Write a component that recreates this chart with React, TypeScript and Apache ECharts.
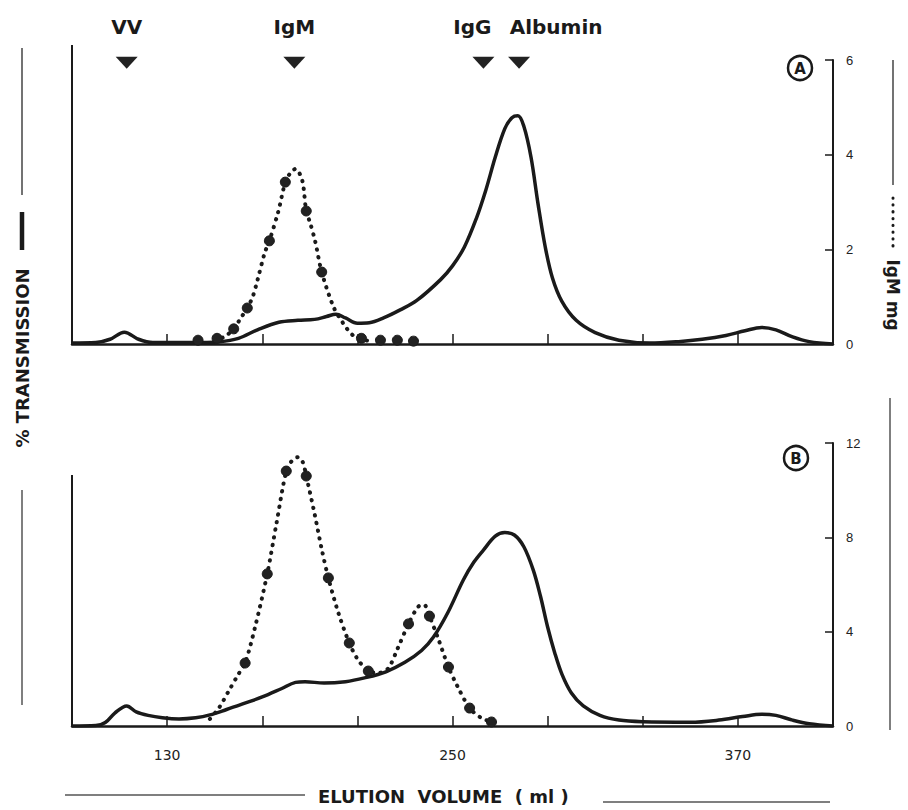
import React, { useEffect, useRef } from "react";
import * as echarts from "echarts";

// ---- data ----
const volumeTicks = [130, 170, 210, 250, 290, 330, 370];
const volumeLabels = [130, 250, 370];
const mgTicksA = [0, 2, 4, 6];
const mgTicksB = [0, 4, 8, 12];

const markerNames = ["VV", "IgM", "IgG", "Albumin"];
const markerVolumes = [113, 183.5, 263, 278];

// Panel A: solid = transmission trace, dotted = IgM mg
const transmissionA: [number, number][] = [
  [90, 0.02], [100, 0.03], [106, 0.1], [112, 0.25], [118, 0.1], [124, 0.03], [140, 0.03],
  [152, 0.05], [160, 0.12], [168, 0.3], [177, 0.46], [185, 0.5], [192, 0.52], [197, 0.58],
  [201, 0.63], [205, 0.55], [210, 0.44], [215, 0.45], [221, 0.55], [228, 0.72], [235, 0.92],
  [245, 1.36], [250, 1.65], [255, 2.05], [260, 2.65], [264, 3.25], [268, 3.95], [272, 4.55],
  [275, 4.78], [277.5, 4.82], [280, 4.6], [283, 3.95], [286, 2.95], [289, 2.05], [292, 1.4],
  [296, 0.9], [302, 0.5], [310, 0.24], [320, 0.08], [333, 0.02], [345, 0.05], [355, 0.1],
  [365, 0.18], [373, 0.28], [380, 0.35], [386, 0.3], [393, 0.15], [400, 0.05], [410, 0.0],
];
const igmCurveA: [number, number][] = [
  [150, 0.08], [154, 0.15], [158, 0.32], [161, 0.55], [163.7, 0.76], [166, 1.0], [168, 1.35],
  [171, 1.92], [173, 2.18], [176.7, 2.79], [179.7, 3.42], [181.8, 3.61], [184, 3.7],
  [186.8, 3.46], [188.5, 2.81], [190.2, 2.55], [192.3, 2.16], [195, 1.52], [200, 0.78],
  [204, 0.44], [208, 0.19], [212, 0.1], [216, 0.05],
];
const igmPointsA: [number, number][] = [
  [143, 0.08], [151, 0.12], [158, 0.32], [163.7, 0.76], [173, 2.18], [179.7, 3.42],
  [188.5, 2.81], [195, 1.52], [211.7, 0.12], [219.7, 0.08], [226.8, 0.08], [233.6, 0.06],
];

// Panel B
const transmissionB: [number, number][] = [
  [90, 0], [100, 0.02], [104, 0.15], [108, 0.55], [113, 0.85], [117, 0.6], [122, 0.45],
  [128, 0.35], [135, 0.3], [142, 0.35], [148, 0.47], [155, 0.7], [163, 0.98], [170, 1.23],
  [178, 1.58], [184, 1.85], [188, 1.88], [196, 1.82], [205, 1.88], [213, 2.04], [222, 2.3],
  [230, 2.7], [237, 3.2], [242, 3.77], [248, 4.8], [254.6, 6.2], [259, 6.95], [263, 7.46],
  [268, 8.05], [272, 8.2], [276, 8.1], [280, 7.6], [284, 6.6], [287, 5.5], [290, 4.2],
  [293, 3.1], [296, 2.2], [300, 1.4], [305, 0.85], [312, 0.45], [320, 0.25], [330, 0.18],
  [350, 0.16], [362, 0.25], [372, 0.4], [380, 0.5], [386, 0.45], [393, 0.25], [400, 0.1],
  [410, 0],
];
const igmCurveB: [number, number][] = [
  [148, 0.3], [152, 0.8], [156, 1.5], [160, 2.2], [162.8, 2.67], [167, 4.2], [172.1, 6.45],
  [176, 8.6], [180.1, 10.81], [182.5, 11.25], [185, 11.4], [187, 11.2], [188.5, 10.6],
  [192, 9.0], [195, 7.5], [197.8, 6.28], [202, 4.8], [206.6, 3.52], [210, 2.85],
  [214.6, 2.33], [219, 2.25], [223, 2.45], [227, 3.3], [231.5, 4.33], [235.5, 5.05],
  [238, 5.15], [240.3, 4.66], [244, 3.7], [248.3, 2.5], [252, 1.7], [257.2, 0.76],
  [262, 0.35], [266.4, 0.17],
];
const igmPointsB: [number, number][] = [
  [162.8, 2.67], [172.1, 6.45], [180.1, 10.81], [188.5, 10.6], [197.8, 6.28], [206.6, 3.52],
  [214.6, 2.33], [231.5, 4.33], [240.3, 4.66], [248.3, 2.5], [257.2, 0.76], [266.4, 0.17],
];

// ---- styling ----
const INK = "#1a1a1a";
const BOLD_FONT = "DejaVu Sans";
const markerLabelShift = [0, 0, -11, 37];

export default function App() {
  const ref = useRef<HTMLDivElement>(null);

  useEffect(() => {
    document.body.style.margin = "0";
    if (!ref.current) return;
    const chart = echarts.init(ref.current, undefined, { renderer: "svg" });

    const xAxisBase = (gridIndex: number, showLabels: boolean) => ({
      gridIndex,
      type: "value",
      min: 90,
      max: 410,
      axisLine: { show: true, lineStyle: { color: INK, width: 2.5 } },
      axisTick: {
        show: true,
        inside: true,
        length: 10,
        customValues: volumeTicks,
        lineStyle: { color: INK, width: 1.5 },
      },
      axisLabel: showLabels
        ? {
            show: true,
            customValues: volumeLabels,
            margin: 22,
            fontSize: 14,
            fontFamily: "DejaVu Sans",
            color: "#222",
          }
        : { show: false },
      splitLine: { show: false },
    });

    const yAxisBase = (gridIndex: number, ticks: number[]) => ({
      gridIndex,
      type: "value",
      position: "right",
      min: ticks[0],
      max: ticks[ticks.length - 1],
      interval: ticks[1] - ticks[0],
      axisLine: { show: true, lineStyle: { color: INK, width: 2 } },
      axisTick: { show: true, inside: true, length: 8, lineStyle: { color: INK, width: 1.5 } },
      axisLabel: {
        show: true,
        margin: 13,
        fontSize: 13,
        fontFamily: "Liberation Sans",
        color: "#222",
        align: "left",
      },
      splitLine: { show: false },
    });

    const solidStyle = { color: INK, width: 3.5 };
    const dotStyle = { color: INK, width: 4, type: [0.4, 7.4], cap: "round" };
    const pointStyle = { color: "#222", borderColor: INK, borderWidth: 1, opacity: 1 };

    const rotatedText = (x: number, y: number, text: string, rot: number, size: number) => ({
      type: "text",
      x,
      y,
      rotation: rot,
      style: {
        text,
        align: "center",
        verticalAlign: "middle",
        fontFamily: BOLD_FONT,
        fontWeight: "bold",
        fontSize: size,
        fill: INK,
      },
    });

    const vline = (x: number, y1: number, y2: number, w: number, color = INK, dash?: number[]) => ({
      type: "line",
      shape: { x1: x, y1, x2: x, y2 },
      style: { stroke: color, lineWidth: w, lineDash: dash, lineCap: dash ? "round" : "butt" },
    });
    const hline = (y: number, x1: number, x2: number, w: number, color = INK) => ({
      type: "line",
      shape: { x1, y1: y, x2, y2: y },
      style: { stroke: color, lineWidth: w },
    });

    const circleLabel = (cx: number, cy: number, letter: string) => ({
      type: "group",
      x: cx,
      y: cy,
      children: [
        {
          type: "circle",
          shape: { cx: 0, cy: 0, r: 12 },
          style: { fill: "#fff", stroke: INK, lineWidth: 2.5 },
        },
        {
          type: "text",
          x: 0,
          y: 1,
          style: {
            text: letter,
            align: "center",
            verticalAlign: "middle",
            fontFamily: BOLD_FONT,
            fontWeight: "bold",
            fontSize: 15,
            fill: INK,
          },
        },
      ],
    });

    const yTopA = mgTicksA[mgTicksA.length - 1];

    chart.setOption({
      animation: false,
      backgroundColor: "#fff",
      grid: [
        { left: 72, right: 75, top: 60, height: 284 },
        { left: 72, right: 75, top: 443, height: 283 },
      ],
      xAxis: [xAxisBase(0, false), xAxisBase(1, true)],
      yAxis: [yAxisBase(0, mgTicksA), yAxisBase(1, mgTicksB)],
      series: [
        {
          type: "line",
          xAxisIndex: 0,
          yAxisIndex: 0,
          data: transmissionA,
          smooth: 0.35,
          showSymbol: false,
          lineStyle: solidStyle,
          z: 3,
        },
        {
          type: "line",
          xAxisIndex: 0,
          yAxisIndex: 0,
          data: igmCurveA,
          smooth: 0.3,
          showSymbol: false,
          lineStyle: dotStyle,
          z: 2,
        },
        {
          type: "scatter",
          xAxisIndex: 0,
          yAxisIndex: 0,
          data: igmPointsA,
          symbolSize: 10,
          itemStyle: pointStyle,
          z: 4,
        },
        {
          type: "line",
          xAxisIndex: 1,
          yAxisIndex: 1,
          data: transmissionB,
          smooth: 0.35,
          showSymbol: false,
          lineStyle: solidStyle,
          z: 3,
        },
        {
          type: "line",
          xAxisIndex: 1,
          yAxisIndex: 1,
          data: igmCurveB,
          smooth: 0.3,
          showSymbol: false,
          lineStyle: dotStyle,
          z: 2,
        },
        {
          type: "scatter",
          xAxisIndex: 1,
          yAxisIndex: 1,
          data: igmPointsB,
          symbolSize: 10,
          itemStyle: pointStyle,
          z: 4,
        },
        {
          type: "scatter",
          xAxisIndex: 0,
          yAxisIndex: 0,
          clip: false,
          symbol: "triangle",
          symbolRotate: 180,
          symbolSize: [22, 12],
          itemStyle: { color: "#222", opacity: 1 },
          data: markerNames.map((name, i) => ({
            name,
            value: [markerVolumes[i], yTopA * 0.99],
            label: { offset: [markerLabelShift[i], 0] },
          })),
          label: {
            show: true,
            position: "top",
            distance: 20,
            formatter: (p: any) => p.name,
            fontFamily: BOLD_FONT,
            fontWeight: "bold",
            fontSize: 20,
            color: INK,
          },
          z: 5,
        },
      ],
      graphic: [
        // left frame lines
        vline(72, 45, 344, 2),
        vline(72, 475, 726, 2),
        // left title
        vline(22, 48, 195, 1.5, "#444"),
        vline(22, 212, 250, 4.5),
        rotatedText(22, 358, "% TRANSMISSION", Math.PI / 2, 18),
        vline(22, 490, 705, 1.5, "#555"),
        // right title
        vline(893, 60, 185, 1.5, "#444"),
        vline(893, 198, 250, 3, INK, [0.3, 6.5]),
        rotatedText(893, 295, "IgM mg", -Math.PI / 2, 17),
        vline(890, 398, 730, 1.5, "#555"),
        // panel labels
        circleLabel(800, 68, "A"),
        circleLabel(796, 458, "B"),
        // bottom title
        hline(795, 65, 305, 1.5, "#555"),
        {
          type: "text",
          x: 318,
          y: 796,
          style: {
            text: "ELUTION  VOLUME  ( ml )",
            align: "left",
            verticalAlign: "middle",
            fontFamily: BOLD_FONT,
            fontWeight: "bold",
            fontSize: 18,
            fill: INK,
          },
        },
        hline(802, 603, 830, 1.5, "#555"),
      ],
    });

    return () => chart.dispose();
  }, []);

  return <div ref={ref} style={{ width: 908, height: 810 }} />;
}
